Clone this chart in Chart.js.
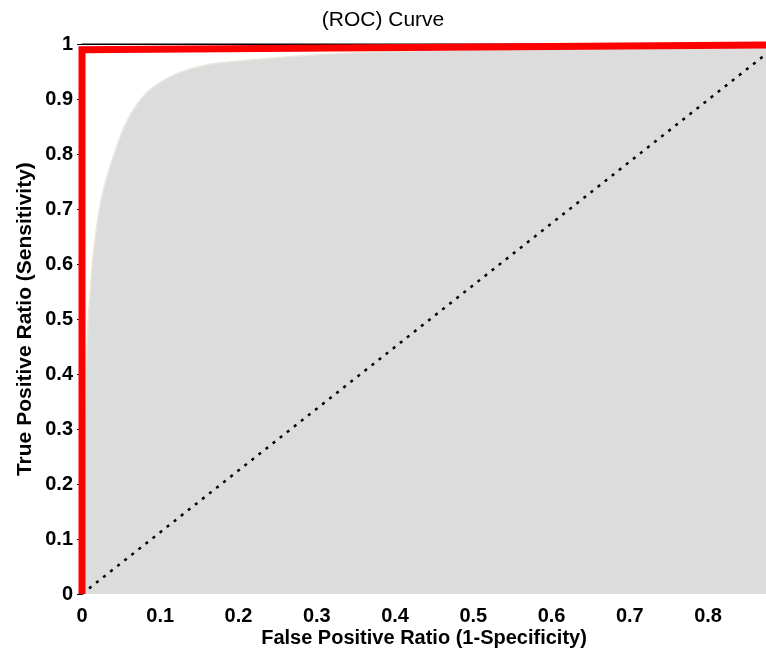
<!DOCTYPE html>
<html>
<head>
<meta charset="utf-8">
<script src="https://cdn.jsdelivr.net/npm/chart.js@4/dist/chart.umd.min.js"></script>
<style>
  html, body { margin: 0; padding: 0; background: #fff; }
  #wrap { width: 766px; height: 653px; }
</style>
</head>
<body>
<div id="wrap"><canvas id="rocChart" width="766" height="653"></canvas></div>
<script>
// Values
const curveFpr = [0, 0.005, 0.008, 0.010, 0.013, 0.017, 0.022, 0.030, 0.041, 0.054, 0.075, 0.109, 0.151, 0.228, 0.30, 0.41, 0.55, 0.70, 0.85, 1.0];
const curveTpr = [0, 0.40, 0.50, 0.54, 0.60, 0.65, 0.70, 0.75, 0.80, 0.85, 0.90, 0.938, 0.960, 0.973, 0.981, 0.987, 0.992, 0.996, 0.998, 1.0];

const rocFpr = [0, 0, 1];
const rocTpr = [0, 0.99, 1];

const chanceFpr = [0, 0.89];
const chanceTpr = [0, 1];

const topFpr = [0, 1];
const topTpr = [1, 1];

const xTicks = [0, 0.1, 0.2, 0.3, 0.4, 0.5, 0.6, 0.7, 0.8];
const yTicks = [0, 0.1, 0.2, 0.3, 0.4, 0.5, 0.6, 0.7, 0.8, 0.9, 1];

const fontFamily = "'Liberation Sans', Arial, Helvetica, sans-serif";

function toPoints(xs, ys) {
    return xs.map((x, i) => ({ x: x, y: ys[i] }));
}

function fmt(v) {
    return Number(v.toFixed(1)).toString();
}

const ctx = document.getElementById('rocChart').getContext('2d');
new Chart(ctx, {
    type: 'line',
    data: {
        datasets: [
            {
                // red ROC
                data: toPoints(rocFpr, rocTpr),
                borderColor: '#ff0000',
                borderWidth: 7,
                borderJoinStyle: 'miter',
                pointRadius: 0,
                fill: false,
                clip: false,
                order: 0
            },
            {
                // black top line
                data: toPoints(topFpr, topTpr),
                borderColor: '#000000',
                borderWidth: 1.5,
                borderCapStyle: 'round',
                pointRadius: 0,
                fill: false,
                clip: false,
                order: 1
            },
            {
                // dotted chance line
                data: toPoints(chanceFpr, chanceTpr),
                borderColor: '#000000',
                borderWidth: 2.5,
                borderDash: [3, 6],
                pointRadius: 0,
                fill: false,
                clip: false,
                order: 2
            },
            {
                // gray area under curve
                data: toPoints(curveFpr, curveTpr),
                borderColor: '#ebe8df',
                borderWidth: 1.5,
                backgroundColor: '#dcdcdc',
                cubicInterpolationMode: 'monotone',
                pointRadius: 0,
                fill: 'origin',
                order: 3
            }
        ]
    },
    options: {
        responsive: false,
        animation: false,
        layout: { padding: 0 },
        plugins: {
            legend: { display: false },
            tooltip: { enabled: false },
            title: {
                display: true,
                text: '(ROC) Curve',
                color: '#000',
                font: { family: fontFamily, size: 21, weight: 'normal', lineHeight: 1.2 },
                padding: { top: 8, bottom: 11 }
            }
        },
        scales: {
            x: {
                type: 'linear',
                min: 0,
                max: 0.874,
                afterBuildTicks: s => { s.ticks = xTicks.map(v => ({ value: v })); },
                afterFit: s => { s.height = 59; },
                border: { display: false },
                grid: { display: false },
                ticks: {
                    color: '#000',
                    padding: 2,
                    maxRotation: 0,
                    font: { family: fontFamily, size: 20, weight: 'bold', lineHeight: 1.2 },
                    callback: v => fmt(v)
                },
                title: {
                    display: true,
                    text: 'False Positive Ratio (1-Specificity)',
                    color: '#000',
                    font: { family: fontFamily, size: 20, weight: 'bold', lineHeight: 1.2 },
                    padding: { top: 0, bottom: 3 }
                }
            },
            y: {
                type: 'linear',
                min: 0,
                max: 1,
                afterBuildTicks: s => { s.ticks = yTicks.map(v => ({ value: v })); },
                afterFit: s => { s.width = 82; },
                border: { display: false },
                grid: {
                    drawOnChartArea: false,
                    drawTicks: true,
                    tickLength: 5,
                    tickColor: '#000',
                    tickWidth: 1
                },
                ticks: {
                    color: '#000',
                    padding: 4,
                    font: { family: fontFamily, size: 20, weight: 'bold', lineHeight: 1.2 },
                    callback: v => fmt(v)
                },
                title: {
                    display: true,
                    text: 'True Positive Ratio (Sensitivity)',
                    color: '#000',
                    font: { family: fontFamily, size: 21, weight: 'bold', lineHeight: 1.2 },
                    padding: { top: 12.4, bottom: 8 }
                }
            }
        }
    }
});
</script>
</body>
</html>
